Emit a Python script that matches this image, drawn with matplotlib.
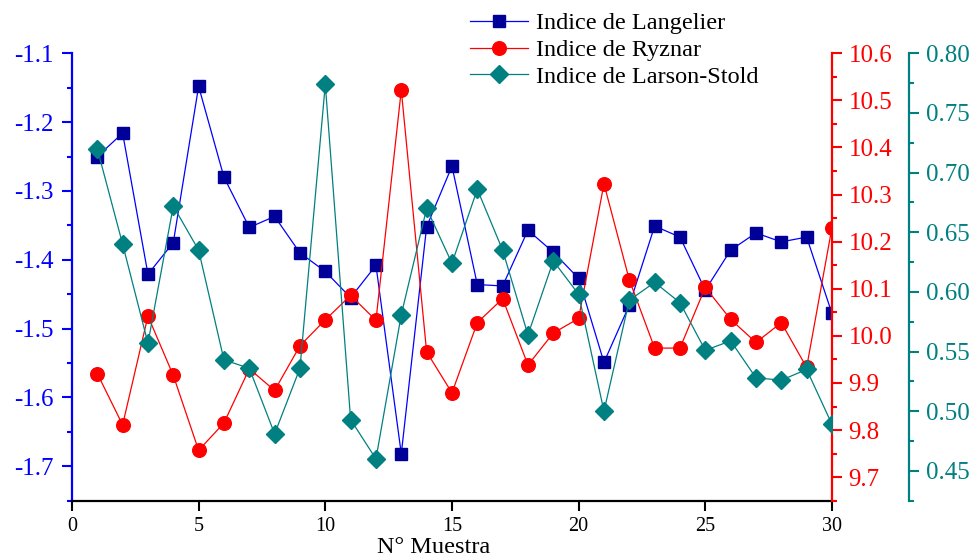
import matplotlib
matplotlib.use("Agg")
import matplotlib.pyplot as plt
from matplotlib.ticker import MultipleLocator, FormatStrFormatter

plt.rcParams["font.family"] = ["Liberation Serif", "DejaVu Serif"]

# sample numbers
muestra = list(range(1, 31))

# Indice de Langelier (left axis)
langelier = [-1.250, -1.216, -1.421, -1.375, -1.148, -1.280, -1.353, -1.337, -1.390, -1.417,
             -1.455, -1.408, -1.682, -1.352, -1.264, -1.436, -1.438, -1.357, -1.389, -1.427,
             -1.549, -1.466, -1.351, -1.367, -1.444, -1.386, -1.361, -1.374, -1.367, -1.478]

# Indice de Ryznar (first right axis)
ryznar = [9.920, 9.811, 10.042, 9.916, 9.757, 9.815, 9.930, 9.884, 9.979, 10.034,
          10.086, 10.033, 10.522, 9.966, 9.879, 10.028, 10.079, 9.938, 10.006, 10.037,
          10.323, 10.119, 9.974, 9.974, 10.103, 10.035, 9.986, 10.028, 9.933, 10.230]

# Indice de Larson-Stold (second right axis)
larson = [0.720, 0.640, 0.557, 0.672, 0.635, 0.543, 0.536, 0.481, 0.536, 0.774,
          0.493, 0.460, 0.581, 0.670, 0.624, 0.686, 0.635, 0.564, 0.626, 0.598,
          0.500, 0.593, 0.608, 0.591, 0.551, 0.559, 0.528, 0.526, 0.535, 0.489]

c_lang_line = "#0000FF"
c_lang_mark = "#000099"
c_ryz = "#FF0000"
c_lar = "#008080"

fig = plt.figure(figsize=(9.75, 5.57), dpi=100)
ax = fig.add_axes([0.0738, 0.1011, 0.7795, 0.8032])
ax2 = ax.twinx()
ax3 = ax.twinx()

l1, = ax.plot(muestra, langelier, color=c_lang_line, lw=0.9, marker="s", ms=9,
              mfc=c_lang_mark, mec=c_lang_mark, label="Indice de Langelier")
l2, = ax2.plot(muestra, ryznar, color=c_ryz, lw=0.9, marker="o", ms=9.8,
               mfc=c_ryz, mec=c_ryz, label="Indice de Ryznar")
l3, = ax3.plot(muestra, larson, color=c_lar, lw=0.9, marker="D", ms=8.8,
               mfc=c_lar, mec=c_lar, label="Indice de Larson-Stold")

ax.set_xlim(0, 30)
ax.set_ylim(-1.75, -1.1)
ax2.set_ylim(9.65, 10.6)
ax3.set_ylim(0.425, 0.80)

# spines
for a in (ax, ax2, ax3):
    for s in a.spines.values():
        s.set_visible(False)
ax.spines["left"].set_visible(True)
ax.spines["left"].set_color(c_lang_line)
ax.spines["left"].set_linewidth(1.6)
ax.spines["bottom"].set_visible(True)
ax.spines["bottom"].set_linewidth(1.6)
ax2.spines["right"].set_visible(True)
ax2.spines["right"].set_color(c_ryz)
ax2.spines["right"].set_linewidth(1.6)
ax3.spines["right"].set_visible(True)
ax3.spines["right"].set_color(c_lar)
ax3.spines["right"].set_linewidth(1.6)
ax3.spines["right"].set_position(("outward", 55.4))

# ticks
ax.xaxis.set_major_locator(MultipleLocator(5))
ax.tick_params(axis="x", direction="out", length=7, width=1.5, labelsize=14.5, pad=5)
ax.yaxis.set_major_locator(MultipleLocator(0.1))
ax.yaxis.set_minor_locator(MultipleLocator(0.05))
ax.yaxis.set_major_formatter(FormatStrFormatter("%.1f"))
ax.tick_params(axis="y", which="major", colors=c_lang_line, length=7, width=1.5,
               labelsize=18, pad=6)
ax.tick_params(axis="y", which="minor", colors=c_lang_line, length=3.5, width=1.5)

ax2.yaxis.set_major_locator(MultipleLocator(0.1))
ax2.yaxis.set_minor_locator(MultipleLocator(0.05))
ax2.yaxis.set_major_formatter(FormatStrFormatter("%.1f"))
ax2.tick_params(axis="y", which="major", colors=c_ryz, length=7, width=1.5,
                labelsize=18, pad=5)
ax2.tick_params(axis="y", which="minor", colors=c_ryz, length=3.5, width=1.5)

ax3.yaxis.set_major_locator(MultipleLocator(0.05))
ax3.yaxis.set_minor_locator(MultipleLocator(0.025))
ax3.yaxis.set_major_formatter(FormatStrFormatter("%.2f"))
ax3.tick_params(axis="y", which="major", colors=c_lar, length=7, width=1.5,
                labelsize=18, pad=5)
ax3.tick_params(axis="y", which="minor", colors=c_lar, length=3.5, width=1.5)

ax.set_xlabel("N° Muestra", fontsize=17.5)
ax.xaxis.set_label_coords(0.476, -0.082)

leg = fig.legend(handles=[l1, l2, l3], loc="upper left",
                 bbox_to_anchor=(458 / 975, 1.0), frameon=False,
                 fontsize=17.5, handlelength=2.4, handletextpad=0.3,
                 labelspacing=0.2, borderpad=0, numpoints=1)

fig.savefig("out.png", dpi=100)
